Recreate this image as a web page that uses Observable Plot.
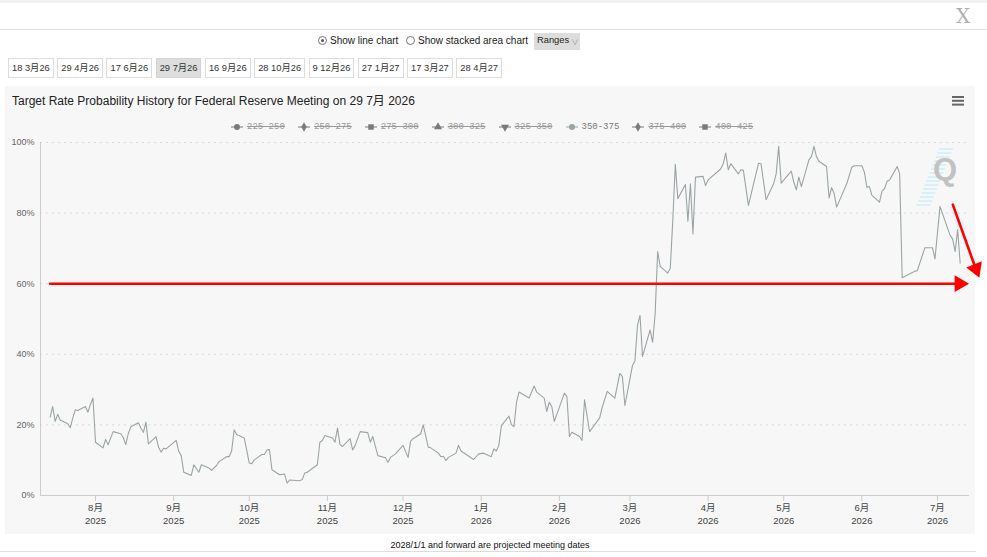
<!DOCTYPE html>
<html><head><meta charset="utf-8">
<script src="https://cdn.jsdelivr.net/npm/d3@7"></script>
<script src="https://cdn.jsdelivr.net/npm/@observablehq/plot@0.6"></script>
<style>
body{margin:0;background:#fff;font-family:"Liberation Sans",Arial,"Noto Sans CJK SC",sans-serif;}
#page{position:relative;width:987px;height:557px;overflow:hidden;background:#fff;}
.abs{position:absolute;}
#buttons{position:absolute;left:8px;top:58px;display:flex;}
#buttons .btn{height:20px;box-sizing:border-box;border:1px solid #ddd;background:#fff;font-size:9.3px;line-height:18px;padding:0 3px;margin-right:3.5px;color:#333;white-space:nowrap;}
#buttons .btn.sel{background:#ddd;border-color:#d5d5d5;}
#legend{position:absolute;top:121px;left:0;height:12px;font-family:"Liberation Mono","DejaVu Sans Mono",monospace;font-size:9px;}
.li{position:absolute;top:0;display:flex;align-items:center;white-space:nowrap;}
.li span{margin-left:4px;}
.li.off span{color:#999;text-decoration:line-through;}
.li.on span{color:#777;}
</style></head>
<body><div id="page">
<div class="abs" style="left:0;top:0;width:987px;height:3px;background:#f1f1f1"></div>
<div class="abs" style="left:956px;top:4px;font:20px 'DejaVu Serif',serif;color:#b0b0b0">X</div>
<div class="abs" style="left:0;top:29px;width:987px;height:1px;background:#ddd"></div>

<div class="abs" style="left:318px;top:36px;width:7px;height:7px;border:1px solid #777;border-radius:50%;background:#fff"></div>
<div class="abs" style="left:321px;top:39px;width:3px;height:3px;border-radius:50%;background:#555"></div>
<div class="abs" style="left:330px;top:35px;font-size:10px;color:#222">Show line chart</div>
<div class="abs" style="left:406px;top:36px;width:7px;height:7px;border:1px solid #777;border-radius:50%;background:#fff"></div>
<div class="abs" style="left:418px;top:35px;font-size:10px;color:#222">Show stacked area chart</div>
<div class="abs" style="left:534px;top:33px;width:46px;height:17px;background:#ddd;"></div>
<div class="abs" style="left:537px;top:35px;font-size:9.3px;color:#222">Ranges</div>
<div class="abs" style="left:571px;top:36px;font-size:8px;color:#999">∨</div>

<div id="buttons"></div>

<div class="abs" style="left:5px;top:86px;width:970px;height:448px;background:#f7f7f7"></div>
<div class="abs" id="title" style="left:12px;top:91px;font-size:12px;color:#222;white-space:nowrap"></div>
<svg class="abs" style="left:952px;top:96px" width="13" height="10"><rect x="0" y="0" width="12" height="2" fill="#666"/><rect x="0" y="3.8" width="12" height="2" fill="#666"/><rect x="0" y="7.6" width="12" height="2" fill="#666"/></svg>
<div id="legend"></div>
<svg class="abs" id="wm" style="left:915px;top:145px" width="50" height="65"></svg>
<div class="abs" style="left:933px;top:152px;font:bold 31px 'Liberation Sans',Arial,sans-serif;color:#c2c2c2">Q</div>
<div class="abs" id="chart" style="left:0;top:135px"></div>
<div class="abs" id="footer" style="left:0;width:980px;top:540px;font-size:9px;color:#111;text-align:center"></div>
<div class="abs" style="left:0;top:551px;width:976px;height:1px;background:#ddd"></div>
</div>
<script>
// ---------- data ----------
const meetingButtons = ["18 3月26","29 4月26","17 6月26","29 7月26","16 9月26","28 10月26","9 12月26","27 1月27","17 3月27","28 4月27"];
const selectedMeeting = "29 7月26";
const chartTitle = "Target Rate Probability History for Federal Reserve Meeting on 29 7月 2026";
const rangeLabels = ["225-250","250-275","275-300","300-325","325-350","350-375","375-400","400-425"];
const rangeSymbols = ["circle","diamond","square","triangle","triangle-down","circle","diamond","square"];
const visibleRange = "350-375";
const footerText = "2028/1/1 and forward are projected meeting dates";
const yTicks = [0, 20, 40, 60, 80, 100];
const monthTicks = ["2025-08-01","2025-09-01","2025-10-01","2025-11-01","2025-12-01","2026-01-01","2026-02-01","2026-03-01","2026-04-01","2026-05-01","2026-06-01","2026-07-01"];
const xDomain = ["2025-07-10T04:20Z","2026-07-13T16:50Z"];

const dates = ["2025-07-14","2025-07-15","2025-07-16","2025-07-17","2025-07-18","2025-07-21","2025-07-22","2025-07-23","2025-07-24","2025-07-25","2025-07-28","2025-07-29","2025-07-30","2025-07-31",
"2025-08-01","2025-08-04","2025-08-05","2025-08-06","2025-08-08","2025-08-11","2025-08-12","2025-08-13","2025-08-14","2025-08-15","2025-08-18","2025-08-19","2025-08-20","2025-08-21","2025-08-22","2025-08-25","2025-08-26","2025-08-27","2025-08-28","2025-08-29",
"2025-09-02","2025-09-03","2025-09-04","2025-09-05","2025-09-08","2025-09-09","2025-09-11","2025-09-12","2025-09-15","2025-09-16","2025-09-18","2025-09-19","2025-09-22","2025-09-23","2025-09-24","2025-09-25","2025-09-26","2025-09-29",
"2025-10-01","2025-10-02","2025-10-03","2025-10-06","2025-10-07","2025-10-08","2025-10-09","2025-10-10","2025-10-13","2025-10-15","2025-10-16","2025-10-17","2025-10-21","2025-10-22","2025-10-23","2025-10-24","2025-10-28","2025-10-29","2025-10-30","2025-10-31",
"2025-11-03","2025-11-04","2025-11-05","2025-11-06","2025-11-07","2025-11-10","2025-11-11","2025-11-12","2025-11-14","2025-11-17","2025-11-18","2025-11-19","2025-11-21","2025-11-24","2025-11-25","2025-11-26","2025-11-28",
"2025-12-01","2025-12-03","2025-12-04","2025-12-05","2025-12-08","2025-12-09","2025-12-11","2025-12-12","2025-12-15","2025-12-16","2025-12-17","2025-12-18","2025-12-19","2025-12-22","2025-12-23","2025-12-24","2025-12-29","2025-12-31",
"2026-01-02","2026-01-05","2026-01-06","2026-01-07","2026-01-08","2026-01-09","2026-01-12","2026-01-13","2026-01-14","2026-01-15","2026-01-16","2026-01-20","2026-01-22","2026-01-23","2026-01-26","2026-01-27","2026-01-28","2026-01-29","2026-01-30",
"2026-02-03","2026-02-04","2026-02-05","2026-02-06","2026-02-09","2026-02-10","2026-02-11","2026-02-13","2026-02-17","2026-02-18","2026-02-20","2026-02-23","2026-02-25","2026-02-26","2026-02-27",
"2026-03-02","2026-03-03","2026-03-04","2026-03-05","2026-03-06","2026-03-09","2026-03-10","2026-03-11","2026-03-12","2026-03-13","2026-03-16","2026-03-17","2026-03-18","2026-03-19","2026-03-20","2026-03-23","2026-03-24","2026-03-25","2026-03-26","2026-03-27","2026-03-30","2026-03-31",
"2026-04-01","2026-04-06","2026-04-07","2026-04-08","2026-04-09","2026-04-10","2026-04-13","2026-04-14","2026-04-15","2026-04-17","2026-04-21","2026-04-22","2026-04-24","2026-04-27","2026-04-28","2026-04-29","2026-04-30",
"2026-05-04","2026-05-05","2026-05-06","2026-05-07","2026-05-08","2026-05-11","2026-05-12","2026-05-13","2026-05-14","2026-05-15","2026-05-18","2026-05-19","2026-05-20","2026-05-21","2026-05-22","2026-05-26","2026-05-28","2026-05-29",
"2026-06-01","2026-06-02","2026-06-03","2026-06-04","2026-06-05","2026-06-08","2026-06-09","2026-06-10","2026-06-11","2026-06-12","2026-06-15","2026-06-16","2026-06-17","2026-06-22","2026-06-23","2026-06-26","2026-06-29","2026-06-30",
"2026-07-02","2026-07-06","2026-07-07","2026-07-08","2026-07-09","2026-07-10"];

const probs = [22.2,25.2,21.0,23.0,21.4,20.3,19.2,22.0,24.3,24.1,25.2,23.6,25.8,27.6,
15.1,13.5,15.9,14.4,18.1,17.5,16.5,14.4,17.5,19.5,20.6,19.1,17.9,20.8,14.6,16.7,13.7,12.3,13.4,13.2,
15.6,12.6,11.3,6.6,5.7,8.7,6.6,8.7,7.8,7.1,8.5,9.6,11.0,11.0,12.6,18.6,17.3,16.3,
9.2,9.0,10.1,11.6,11.6,12.9,13.0,7.3,5.9,6.1,3.5,4.4,4.2,4.5,6.4,6.6,8.7,15.1,15.6,17.0,
16.3,15.1,19.1,14.4,13.9,16.1,12.9,14.2,18.1,17.8,15.1,16.7,11.3,10.7,9.4,10.8,11.8,
14.2,10.8,15.4,16.1,17.5,20.0,13.7,13.5,12.0,11.0,11.1,9.9,10.8,12.0,14.2,12.6,10.2,11.8,
12.0,11.0,13.2,12.6,14.2,19.8,22.5,20.1,19.5,26.4,29.3,27.6,31.0,29.3,27.6,23.8,26.4,25.2,21.0,
29.0,28.0,16.7,17.9,16.7,15.6,27.1,18.1,22.0,25.0,29.5,27.6,34.6,33.7,25.5,
36.8,38.2,48.2,51.0,39.4,46.9,43.4,51.5,69.1,64.9,63.0,64.4,77.9,93.8,84.1,88.1,77.7,88.3,74.1,90.2,90.4,87.8,
89.4,92.5,94.0,97.0,92.3,94.0,91.1,92.3,92.1,82.2,94.1,94.0,83.8,88.3,91.1,98.9,88.5,
91.9,88.8,86.6,90.2,87.5,95.1,96.0,98.9,96.0,94.7,93.2,84.3,87.2,85.6,81.7,88.3,93.0,93.4,
93.4,91.6,87.3,87.5,85.0,83.1,86.2,86.9,89.0,89.4,93.2,91.1,61.7,63.5,63.7,70.2,70.2,67.0,
81.9,73.7,72.7,69.1,75.3,65.8];

// red annotation arrows (hand-drawn markup on the original)
const hArrowDates = ["2025-07-14","2026-07-09T17:00Z"];
const hArrowValues = [60, 60];
const dArrowDates = ["2026-07-07T02:00Z","2026-07-16T05:00Z"];
const dArrowValues = [82.4, 64.2];

// ---------- page chrome ----------
const btnBox = document.getElementById("buttons");
meetingButtons.forEach(t => {
  const b = document.createElement("div");
  b.className = "btn" + (t === selectedMeeting ? " sel" : "");
  b.textContent = t;
  btnBox.appendChild(b);
});
document.getElementById("title").textContent = chartTitle;
document.getElementById("footer").textContent = footerText;

const legend = document.getElementById("legend");
const symPath = {
  "circle": d3.symbol(d3.symbolCircle, 28)(),
  "diamond": d3.symbol(d3.symbolDiamond, 26)(),
  "square": d3.symbol(d3.symbolSquare, 30)(),
  "triangle": d3.symbol(d3.symbolTriangle, 28)(),
  "triangle-down": d3.symbol(d3.symbolTriangle, 28)()
};
rangeLabels.forEach((lab, i) => {
  const on = lab === visibleRange;
  const item = document.createElement("div");
  item.className = "li " + (on ? "on" : "off");
  item.style.left = (231 + i * 66.9) + "px";
  const col = on ? "#9aa4a5" : "#7a7a7a";
  const rot = rangeSymbols[i] === "triangle-down" ? " rotate(180)" : "";
  item.innerHTML = `<svg width="12" height="12"><line x1="0" x2="12" y1="6" y2="6" stroke="${col}" stroke-width="1"/><path d="${symPath[rangeSymbols[i]]}" transform="translate(6,6)${rot}" fill="${col}"/></svg><span>${lab}</span>`;
  legend.appendChild(item);
});

// watermark stripes
const wm = d3.select("#wm");
for (let k = 0; k < 15; k++) {
  const y = 4 + k * 4;
  const xl = 24 - k * 1.6;
  wm.append("line").attr("x1", xl).attr("x2", xl + 14).attr("y1", y).attr("y2", y)
    .attr("stroke", "#cfeefb").attr("stroke-width", 1.6);
}

// ---------- chart ----------
const parse = s => new Date(s.length === 10 ? s + "T00:00Z" : s);
const series = dates.map((d, i) => ({date: parse(d), p: probs[i]}));
const hArrow = hArrowDates.map((d, i) => ({date: parse(d), v: hArrowValues[i]}));
const dArrow = dArrowDates.map((d, i) => ({date: parse(d), v: dArrowValues[i]}));
const ticksX = monthTicks.map(parse);

const chart = Plot.plot({
  width: 987,
  height: 395,
  marginLeft: 40,
  marginRight: 18,
  marginTop: 7,
  marginBottom: 35,
  style: {background: "transparent", overflow: "visible", fontFamily: "'Liberation Sans', Arial, 'Noto Sans CJK SC', sans-serif"},
  x: {type: "utc", domain: xDomain.map(parse)},
  y: {domain: [0, 100]},
  marks: [
    Plot.ruleY(yTicks.filter(t => t > 0), {stroke: "#d9d9d9", strokeDasharray: "2,4"}),
    Plot.ruleY([0], {stroke: "#cccccc"}),
    Plot.ruleX([parse(xDomain[0])], {stroke: "#cccccc"}),
    Plot.axisX({ticks: ticksX, tickFormat: d => `${d.getUTCMonth() + 1}月\n${d.getUTCFullYear()}`,
      tickSize: 6, tickPadding: 1, stroke: "#cccccc", fill: "#444", fontSize: 9.5, lineHeight: 1.3, label: null}),
    Plot.axisY({ticks: yTicks, tickFormat: d => d + "%", tickSize: 0, tickPadding: 6, fill: "#666", fontSize: 9, label: null}),
    Plot.line(series, {x: "date", y: "p", stroke: "#9aa4a5", strokeWidth: 1.1}),
    Plot.line(hArrow, {x: "date", y: "v", stroke: "#ff0000", strokeWidth: 2.6}),
    Plot.dot([hArrow[1]], {x: "date", y: "v", symbol: "triangle", r: 6.2, fill: "#ff0000", stroke: "none", rotate: 90}),
    Plot.line(dArrow, {x: "date", y: "v", stroke: "#ff0000", strokeWidth: 2.6}),
    Plot.dot([dArrow[1]], {x: "date", y: "v", symbol: "triangle", r: 6.2, fill: "#ff0000", stroke: "none", rotate: 158.5})
  ]
});
document.getElementById("chart").appendChild(chart);
</script>
</body></html>
